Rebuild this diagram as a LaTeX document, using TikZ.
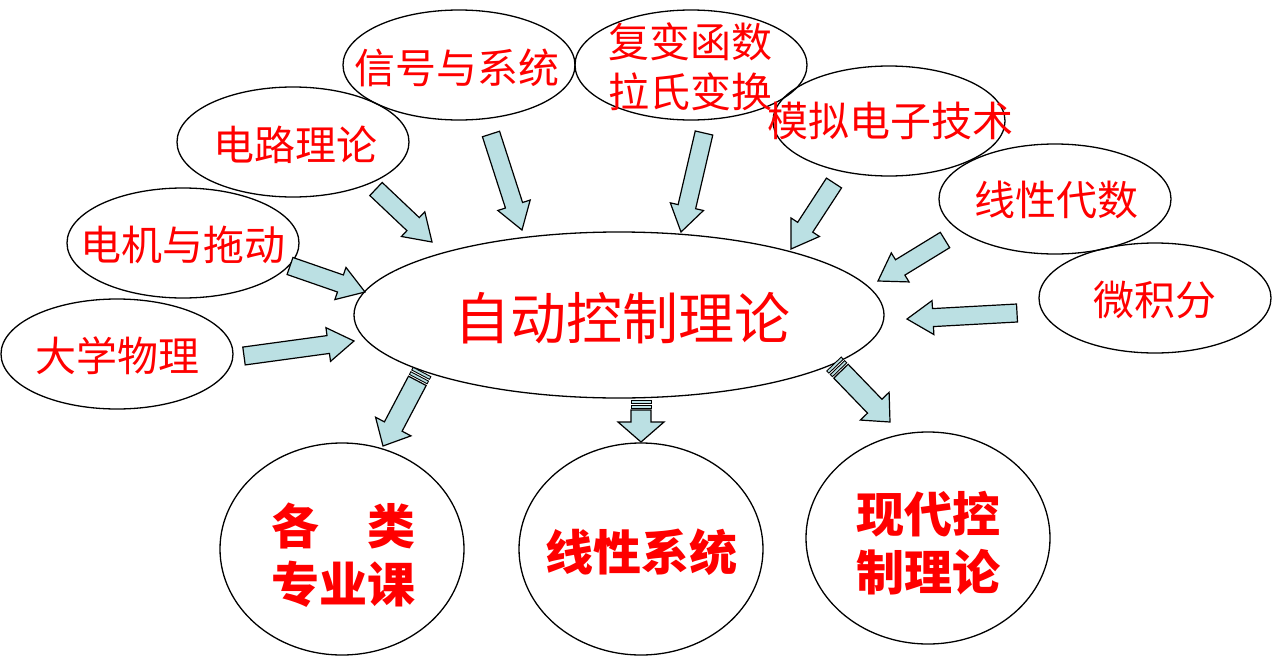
\documentclass[tikz,border=0pt]{standalone}
\usepackage{fontspec}
\newfontfamily\cjk{Noto Sans CJK SC}
\usetikzlibrary{shapes.geometric,calc}
\definecolor{labelred}{HTML}{FF0000}
\definecolor{arrowblue}{HTML}{BBE0E3}
\tikzset{
  course/.style={
    ellipse,
    draw=black,
    line width=1.3pt,
    minimum width=232pt,
    minimum height=110pt,
    inner sep=0pt
  },
  core/.style={course, minimum width=530pt, minimum height=166pt},
  result/.style={course, minimum width=244pt, minimum height=212pt},
  courseText/.style={
    text=labelred,
    font=\cjk\fontsize{41}{50}\selectfont,
    align=center,
    inner sep=0pt
  },
  coreText/.style={courseText, font=\cjk\fontsize{56}{60}\selectfont},
  resultText/.style={courseText, font=\cjk\bfseries\fontsize{48}{58}\selectfont},
  blockArrow/.style={draw=black, line width=1.2pt, fill=arrowblue, line join=miter}
}
% fat arrow: tail, head, shaft half width, head half width, head length
\newcommand\blockarrow[5]{%
  \path (#1) coordinate (ba-s) (#2) coordinate (ba-e);
  \path ($(ba-e)!#5!(ba-s)$) coordinate (ba-h);
  \draw[blockArrow] ($(ba-s)!#3!90:(ba-e)$) -- ($(ba-h)!#3!-90:(ba-s)$)
    -- ($(ba-h)!#4!-90:(ba-s)$) -- (ba-e) -- ($(ba-h)!#4!90:(ba-s)$)
    -- ($(ba-h)!#3!90:(ba-s)$) -- ($(ba-s)!#3!-90:(ba-e)$) -- cycle;
}
% same, with two thin bars at the tail
\newcommand\stripedarrow[5]{%
  \path (#1) coordinate (sa-s) (#2) coordinate (sa-e);
  \foreach \a/\b in {0pt/3pt, 5pt/8pt} {
    \path ($(sa-s)!\a!(sa-e)$) coordinate (sa-a) ($(sa-s)!\b!(sa-e)$) coordinate (sa-b);
    \draw[blockArrow, line width=0.9pt] ($(sa-a)!#3!90:(sa-e)$) -- ($(sa-b)!#3!90:(sa-e)$)
      -- ($(sa-b)!#3!-90:(sa-e)$) -- ($(sa-a)!#3!-90:(sa-e)$) -- cycle;
  }
  \path ($(sa-s)!10pt!(sa-e)$) coordinate (sa-t);
  \blockarrow{sa-t}{sa-e}{#3}{#4}{#5}
}

\begin{document}
\begin{tikzpicture}[x=1pt,y=-1pt]
  \useasboundingbox (0,0) rectangle (1272,656);

  % surrounding courses
  \node[course] (xinhao) at (459,65) {};
  \node[course] (fubian) at (691,65) {};
  \node[course] (dianlu) at (293,142) {};
  \node[course] (moni) at (889,121) {};
  \node[course] (daishu) at (1055,199) {};
  \node[course] (dianji) at (183,243) {};
  \node[course] (weijifen) at (1155,298) {};
  \node[course] (wuli) at (117,354) {};

  \node[core] (zidong) at (619,315) {};

  \node[result] (zhuanye) at (342,549) {};
  \node[result] (xianxing) at (641,549) {};
  \node[result] (xiandai) at (928,538) {};

  % texts
  \node[courseText] (xinhao-t) at (457,68) {信号与系统};
  \node[courseText] (fubian-t) at (690,67) {复变函数\\拉氏变换};
  \node[courseText] (dianlu-t) at (295,145) {电路理论};
  \node[courseText] (moni-t) at (890,121) {模拟电子技术};
  \node[courseText] (daishu-t) at (1056,200) {线性代数};
  \node[courseText] (dianji-t) at (183,245) {电机与拖动};
  \node[courseText] (weijifen-t) at (1155,300) {微积分};
  \node[courseText] (wuli-t) at (117,356) {大学物理};

  \node[coreText] (zidong-t) at (622,318) {自动控制理论};

  \node[resultText] (zhuanye-t) at (343,555) {各\hspace{1em}类\\专业课};
  \node[resultText] (xianxing-t) at (641,552) {线性系统};
  \node[resultText] (xiandai-t) at (928,543) {现代控\\制理论};

  % arrows into the core
  \coordinate (dianlu-a) at (376,189);
  \coordinate (dianlu-b) at (432,242);
  \coordinate (xinhao-a) at (491,134);
  \coordinate (xinhao-b) at (522,230);
  \coordinate (fubian-a) at (704,133);
  \coordinate (fubian-b) at (681,232);
  \coordinate (moni-a) at (834,183);
  \coordinate (moni-b) at (791,249);
  \coordinate (daishu-a) at (945,240);
  \coordinate (daishu-b) at (878,281);
  \coordinate (weijifen-a) at (1017,313);
  \coordinate (weijifen-b) at (907,319);
  \coordinate (dianji-a) at (290,266);
  \coordinate (dianji-b) at (365,292);
  \coordinate (wuli-a) at (244,356);
  \coordinate (wuli-b) at (354,341);

  \blockarrow{dianlu-a}{dianlu-b}{9pt}{17pt}{26pt}
  \blockarrow{xinhao-a}{xinhao-b}{9pt}{17pt}{26pt}
  \blockarrow{fubian-a}{fubian-b}{9pt}{17pt}{26pt}
  \blockarrow{moni-a}{moni-b}{9pt}{17pt}{26pt}
  \blockarrow{daishu-a}{daishu-b}{9pt}{17pt}{26pt}
  \blockarrow{weijifen-a}{weijifen-b}{9pt}{17pt}{26pt}
  \blockarrow{dianji-a}{dianji-b}{9pt}{17pt}{26pt}
  \blockarrow{wuli-a}{wuli-b}{9pt}{17pt}{26pt}

  % arrows out of the core
  \coordinate (zhuanye-a) at (422,372);
  \coordinate (zhuanye-b) at (383,446);
  \coordinate (xianxing-a) at (641,400);
  \coordinate (xianxing-b) at (641,442);
  \coordinate (xiandai-a) at (834,364);
  \coordinate (xiandai-b) at (890,422);

  \stripedarrow{zhuanye-a}{zhuanye-b}{10pt}{20pt}{22pt}
  \stripedarrow{xianxing-a}{xianxing-b}{10pt}{23pt}{20pt}
  \stripedarrow{xiandai-a}{xiandai-b}{10pt}{20pt}{22pt}
\end{tikzpicture}
\end{document}
